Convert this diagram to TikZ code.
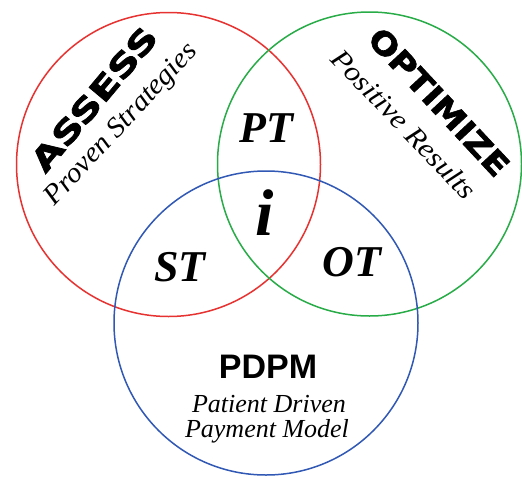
\documentclass[tikz,border=0pt]{standalone}
\usepackage{fontspec}
\setmainfont{Liberation Serif}[ItalicFont={Liberation Serif Italic}, BoldItalicFont={Liberation Serif Bold Italic}]
\newfontfamily\heavysans{DejaVu Sans}[BoldFeatures={FakeBold=2}]
\newfontfamily\arialsans{Liberation Sans}
\definecolor{vred}{RGB}{230,50,48}
\definecolor{vgreen}{RGB}{40,172,72}
\definecolor{vblue}{RGB}{48,88,180}
\begin{document}
\begin{tikzpicture}[x=1pt,y=-1pt,
  ring/.style={line width=1.5pt},
  headtxt/.style={font=\heavysans\bfseries\fontsize{31}{31}\selectfont, inner sep=0pt},
  subtxt/.style={font=\itshape\fontsize{28}{28}\selectfont, inner sep=0pt},
  modeltxt/.style={font=\itshape\fontsize{26}{26}\selectfont, inner sep=0pt},
  zonetxt/.style={font=\bfseries\itshape\fontsize{44}{44}\selectfont, inner sep=0pt},
]
\useasboundingbox (0,0) rectangle (522,477);
\fill[white] (0,0) rectangle (522,477);
\node[circle, ring, draw=vred, minimum size=304pt, inner sep=0pt] (red) at (168.5,164.5) {};
\node[circle, ring, draw=vgreen, minimum size=304pt, inner sep=0pt] (green) at (369.5,164) {};
\node[circle, ring, draw=vblue, minimum size=304pt, inner sep=0pt] (blue) at (266,323) {};
\node[headtxt, rotate=50] (assess) at (94,99) {\scalebox{1.35}[1]{ASSESS}};
\node[subtxt, rotate=47] (proven) at (122,125) {\scalebox{1.06}[1]{Proven Strategies}};
\node[headtxt, rotate=-47] (optimize) at (439,102) {\scalebox{1.13}[1]{OPTIMIZE}};
\node[subtxt, rotate=-46] (positive) at (404,124) {\scalebox{1.1}[1]{Positive Results}};
\node[zonetxt] (pt) at (266,128) {PT};
\node[font=\bfseries\itshape\fontsize{66}{66}\selectfont, inner sep=0pt] (itxt) at (265,213) {i};
\node[zonetxt] (st) at (180,267) {ST};
\node[zonetxt] (ot) at (352,262) {OT};
\node[font=\arialsans\bfseries\fontsize{34}{34}\selectfont, inner sep=0pt] (pdpm) at (268,367) {PDPM};
\node[modeltxt] (pd1) at (269,404) {Patient Driven};
\node[modeltxt] (pd2) at (267,431) {Payment Model};
\end{tikzpicture}
\end{document}
